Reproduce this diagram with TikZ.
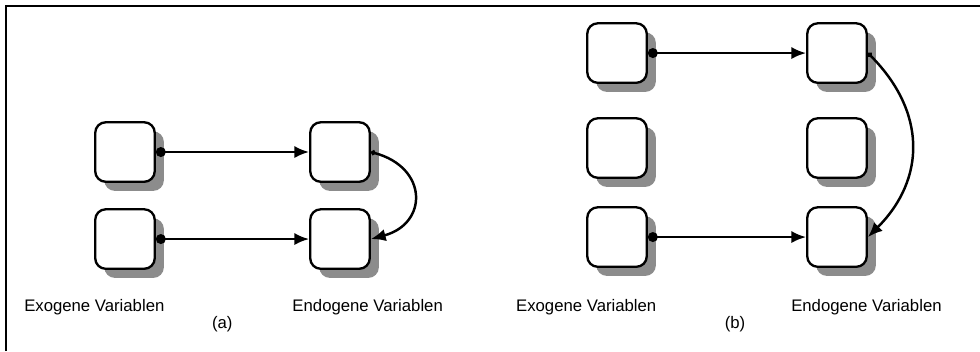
\documentclass[tikz,border=0pt]{standalone}
\usepackage{fontspec}
\setmainfont{Liberation Sans}
\usepackage{tikz}
\usetikzlibrary{arrows.meta}
\usetikzlibrary{shadows}
\usetikzlibrary{positioning}
\tikzset{var/.style={rectangle,rounded corners=0.3cm,draw=black,line width=1.9pt,fill=white,minimum size=1.7cm,inner sep=0pt,
    drop shadow={shadow xshift=0.26cm,shadow yshift=-0.26cm,fill=black!45,opacity=1}}}
\tikzset{link/.style={line width=2pt,{Circle[length=8pt]}-{Latex[length=12pt,width=10pt]}}}
\tikzset{bow/.style={line width=2pt,{Circle[length=4pt]}-{Latex[length=12pt,width=10pt]}}}
\tikzset{lbl/.style={font=\fontsize{13.6}{16}\selectfont,inner sep=0pt}}

\begin{document}
\begin{tikzpicture}
\useasboundingbox (0,0) rectangle (28,10.03);
\draw[line width=1.3pt] (0.17,0) -- (0.17,9.86) -- (28,9.86);
% (a)
\foreach \i/\y in {1/5.686,2/3.2} {
	\node[var] (Xa\i) at (3.571,\y) {};
	\node[var] (Ya\i) at (9.714,\y) {};
	\draw[link] (Xa\i.east) -- (Ya\i.west);
}
\draw[bow] (Ya1.east) to[out=-15,in=15,looseness=1.75] (Ya2.east);
\node[lbl,anchor=base west] (exa) at (0.686,1.14) {Exogene Variablen};
\node[lbl,anchor=base west] (ena) at (8.35,1.14) {Endogene Variablen};
\node[lbl,anchor=base] (capa) at (6.35,0.63) {(a)};
% (b)
\foreach \i/\y in {1/8.514,2/5.8,3/3.257} {
	\node[var] (Xb\i) at (17.629,\y) {};
	\node[var] (Yb\i) at (23.914,\y) {};
}
\foreach \i in {1,3} {
	\draw[link] (Xb\i.east) -- (Yb\i.west);
}
\draw[bow] (Yb1.east) to[out=-45,in=45,looseness=1.15] (Yb3.east);
\node[lbl,anchor=base west] (exb) at (14.74,1.14) {Exogene Variablen};
\node[lbl,anchor=base west] (enb) at (22.6,1.14) {Endogene Variablen};
\node[lbl,anchor=base] (capb) at (21.0,0.63) {(b)};
\end{tikzpicture}
\end{document}
